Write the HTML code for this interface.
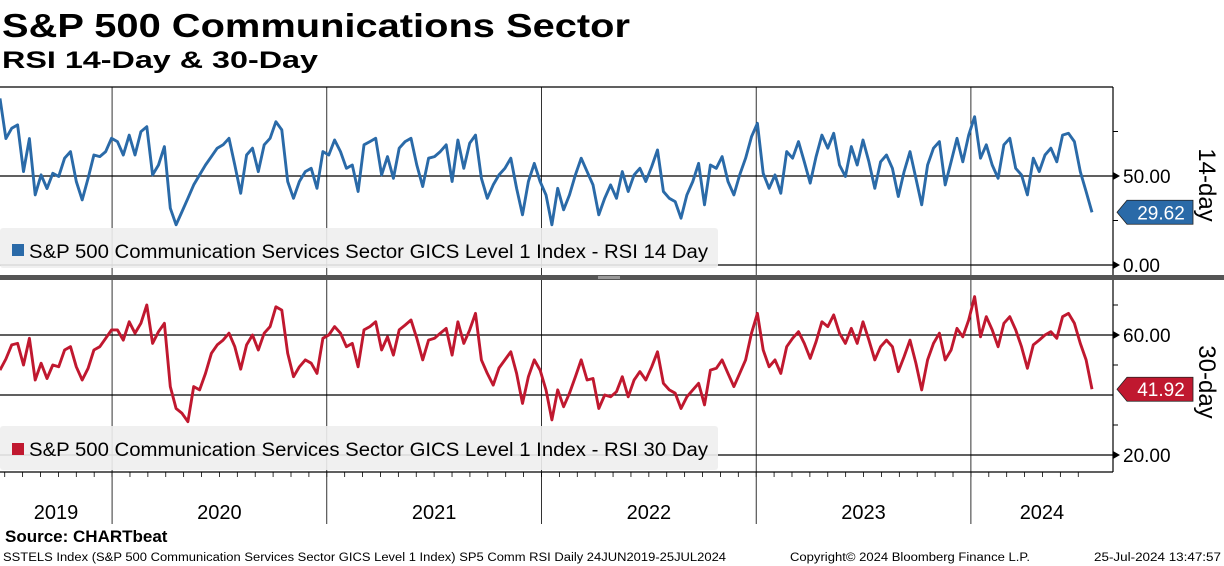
<!DOCTYPE html>
<html><head><meta charset="utf-8">
<style>
body{margin:0;background:#fff;}
svg{display:block;font-family:"Liberation Sans",sans-serif;}
</style></head>
<body>
<svg id="chart" width="1224" height="566" viewBox="0 0 1224 566" xmlns="http://www.w3.org/2000/svg">
<text x="2" y="37" font-size="33" font-weight="bold" textLength="628" lengthAdjust="spacingAndGlyphs">S&amp;P 500 Communications Sector</text>
<text x="2" y="68" font-size="24" font-weight="bold" textLength="316" lengthAdjust="spacingAndGlyphs">RSI 14-Day &amp; 30-Day</text>
<g id="grid"></g>
<g id="legends">
<rect x="0" y="228" width="718" height="40" rx="3" fill="#eeeeee" fill-opacity="0.9"/>
<rect x="12" y="244" width="12" height="12" fill="#2a6aa8"/>
<text x="29" y="258" font-size="19" textLength="679" lengthAdjust="spacingAndGlyphs">S&amp;P 500 Communication Services Sector GICS Level 1 Index - RSI 14 Day</text>
<rect x="0" y="426" width="718" height="44" rx="3" fill="#eeeeee" fill-opacity="0.9"/>
<rect x="12" y="443" width="12" height="12" fill="#c0182f"/>
<text x="29" y="456" font-size="19" textLength="679" lengthAdjust="spacingAndGlyphs">S&amp;P 500 Communication Services Sector GICS Level 1 Index - RSI 30 Day</text>
</g>
<g id="series"></g>
<g id="axes"></g>
<rect x="0" y="275" width="1224" height="5" fill="#555"/>
<rect x="598" y="276" width="22" height="3" fill="#999"/>
<text x="5" y="542" font-size="17" font-weight="bold">Source: CHARTbeat</text>
<text x="3" y="561" font-size="11.5" textLength="723" lengthAdjust="spacingAndGlyphs">SSTELS Index (S&amp;P 500 Communication Services Sector GICS Level 1 Index) SP5 Comm RSI  Daily 24JUN2019-25JUL2024</text>
<text x="790" y="561" font-size="11.5" textLength="240" lengthAdjust="spacingAndGlyphs">Copyright© 2024 Bloomberg Finance L.P.</text>
<text x="1094" y="561" font-size="11.5" textLength="127" lengthAdjust="spacingAndGlyphs">25-Jul-2024 13:47:57</text>
</svg>
<script>
const rsi14 = [93.6,71,76.8,78.7,52.5,71,39.4,50.6,43,51.5,49.7,60,63.7,46.9,36.6,48.7,61.8,60.9,63.7,71.2,69.3,61.8,73,61.8,74.9,77.7,50.6,56.2,66.5,31.9,22.6,30,37.5,45,50.6,56.2,60.9,65.6,67.5,71.2,56.2,40.3,61.8,65.6,52.5,67.5,71.2,80.5,75.9,46.9,37.5,46.9,52.5,54.3,43.1,63.7,61.8,70.2,63.7,54.3,56.2,41.3,67.5,69.3,71.2,50.6,60.9,48.7,65.6,69.3,71.2,56.2,44.1,60,60.9,63.7,67.5,46.9,70.2,54.3,68.4,73,48.7,37.5,45,50.6,54.3,60,43.1,28.2,46.9,57.1,46.9,39.4,22.6,
43.1,31,39.4,50.6,60,52.5,45,28.2,37.5,45,37.5,52.5,41.3,50.6,54.3,46.9,55.3,64.6,41.3,37.5,35.6,26.3,39.4,46.9,57.1,33.8,56.2,54.3,60.9,46.9,39.4,50.6,60,72.1,79.6,51.5,43.1,50.6,40.3,63.7,60,69.3,58,46,60.9,73,65.6,74,56.2,49.7,66.5,56.2,70.2,58,43.1,58,61.8,54.3,38.5,52.5,63.7,48.7,33.8,56.2,65.6,69.3,45,58,71.2,58,73,83.3,60,67.5,56.2,48.7,67.5,71.2,54.3,50.6,39.4,60,52.5,61.8,65.6,58,73,74,69.3,52.5,41.3,29.62];
const rsi30 = [48.3,52,56.7,57.2,50,58.9,45,50.6,45.5,50,49.4,55,56.1,49.4,45,48.9,55,56.1,58.9,61.7,61.7,58.3,64.4,60.6,63.9,70,57.2,61.1,63.9,42.8,35.5,33.9,31.1,42.8,41.7,47.2,53.9,56.7,58.3,60.6,56.1,48.6,56.7,60,55,60.6,62.8,69.4,68.3,53.9,46.1,49.4,51.7,50.6,47.2,58.9,60,62.8,60.6,56.1,57.2,49.4,61.7,62.8,64.4,55,59.4,53.3,61.7,63.3,65,58.9,51.7,58.3,58.9,60.6,62.2,53.3,64.4,57.2,61.7,67.2,51.7,47.2,43.3,49,51.7,54.4,47.2,37.2,46.1,51.7,48.3,41.7,31.7,
41.7,36.1,40.6,46.1,51.7,45,45.5,35.5,40,39.4,41.1,46.1,39.4,45,47.8,45,49.4,54.4,43.9,41.7,40.6,35.5,39.4,41.7,43.9,36.7,48.3,48.9,51.7,47.2,42.8,47.2,51.7,60.6,67.2,55,49.4,51.7,47.2,56.1,58.9,61.1,57.2,52.2,57.8,64.4,62.8,66.7,60.6,57.2,62.2,57.2,64.4,58.3,51.7,56.1,58.3,56.1,47.8,52.8,58.3,50.6,41.7,51.7,57.2,60.6,51.7,55,62.2,59.4,65,72.8,59.4,66.1,61.7,56.1,63.9,66.1,61.7,56.1,48.9,56.7,58.3,60,61.1,58.9,66.1,67.2,63.9,57.2,51.7,41.92];
const years = ["2019","2020","2021","2022","2023","2024"];
const yearStarts = [2019.478,2020,2021,2022,2023,2024];
const startYear = 2019.478, endYear = 2024.564;
const ticks14 = [0,50];
const ticks30 = [20,60];
const NS="http://www.w3.org/2000/svg";
const X0=0, X1=1092, AX=1113;
function xT(t){return X0+(t-startYear)/(endYear-startYear)*(X1-X0);}
function xIdx(i,n){return xT(startYear+i/(n-1)*(endYear-startYear));}
function y14(v){return 265-v*1.78;}
function y30(v){return 395-(v-40)*3;}
function mk(tag,attrs,parent){const e=document.createElementNS(NS,tag);for(const k in attrs)e.setAttribute(k,attrs[k]);parent.appendChild(e);return e;}
const grid=document.getElementById('grid'), axes=document.getElementById('axes'), series=document.getElementById('series');
[[87,"top-panel-border"],[y14(50),"grid-14-50"],[y14(0),"grid-14-0"],[y30(60),"grid-30-60"],[y30(40),"grid-30-40"],[y30(20),"grid-30-20"],[472,"x-axis-line"]].forEach(a=>{
  const l=mk('line',{x1:0,x2:AX,y1:a[0],y2:a[0],stroke:'#000','stroke-width':1.2},grid);
  
  
});
for(let i=0;i<years.length;i++){
  if(i>0){
    const l=mk('line',{x1:xT(yearStarts[i]),x2:xT(yearStarts[i]),y1:87,y2:524,stroke:'#000','stroke-width':0.8},grid);
    
    
  }
  const a=xT(yearStarts[i]), b=i+1<years.length?xT(yearStarts[i+1]):AX;
  const t=mk('text',{x:(a+b)/2,y:519,'font-size':20,'text-anchor':'middle'},axes);
  t.textContent=years[i];
  
  
}
for(let t=2019.5;t<2024.56;t+=1/12){
  const x=xT(t);
  const l=mk('line',{x1:x,x2:x,y1:472,y2:477,stroke:'#000','stroke-width':0.8},axes);
  
  
}
const ra=mk('line',{x1:AX,x2:AX,y1:87,y2:472,stroke:'#000','stroke-width':1.2},axes);


function tickLabel(y,txt,name){
  const p=mk('path',{d:`M${AX} ${y-4} L${AX+7} ${y} L${AX} ${y+4}Z`,fill:'#000'},axes);
  
  
  const t=mk('text',{x:AX+10,y:y+7,'font-size':19},axes);
  t.textContent=txt;
  
  
}
ticks14.forEach(v=>tickLabel(y14(v),v.toFixed(2),'y-tick-14-'+v));
ticks30.forEach(v=>tickLabel(y30(v),v.toFixed(2),'y-tick-30-'+v));
[75,25].forEach(v=>{const l=mk('line',{x1:AX,x2:AX+5,y1:y14(v),y2:y14(v),stroke:'#000'},axes);});
[70,50,30].forEach(v=>{const l=mk('line',{x1:AX,x2:AX+5,y1:y30(v),y2:y30(v),stroke:'#000'},axes);});
function sideTitle(y,txt,name){
  const t=mk('text',{x:1199,y:y,'font-size':24,'text-anchor':'middle',transform:`rotate(90 1199 ${y})`},axes);
  t.textContent=txt;
  
  
}
sideTitle(185,'14-day','y-axis-title-14');
sideTitle(382,'30-day','y-axis-title-30');
function drawLine(arr,yf,color,name){
  const d=arr.map((v,i)=>(i?'L':'M')+xIdx(i,arr.length).toFixed(1)+' '+yf(v).toFixed(1)).join(' ');
  const p=mk('path',{d:d,fill:'none',stroke:color,'stroke-width':2.9,'stroke-linejoin':'round'},series);
  
  
}
drawLine(rsi14,y14,'#2a6aa8','rsi-14-line');
drawLine(rsi30,y30,'#c0182f','rsi-30-line');
function badge(v,yf,color,name){
  const y=yf(v);
  const p=mk('path',{d:`M${AX+4} ${y} L${AX+14} ${y-12} L${AX+80} ${y-12} L${AX+80} ${y+12} L${AX+14} ${y+12}Z`,fill:color,stroke:'#222','stroke-width':0.8},axes);
  
  
  const t=mk('text',{x:AX+48,y:y+7,'font-size':19,'text-anchor':'middle',fill:'#fff'},axes);
  t.textContent=v.toFixed(2);
  
  
}
badge(rsi14[rsi14.length-1],y14,'#2a6aa8','last-value-14');
badge(rsi30[rsi30.length-1],y30,'#c0182f','last-value-30');
</script>
</body></html>
